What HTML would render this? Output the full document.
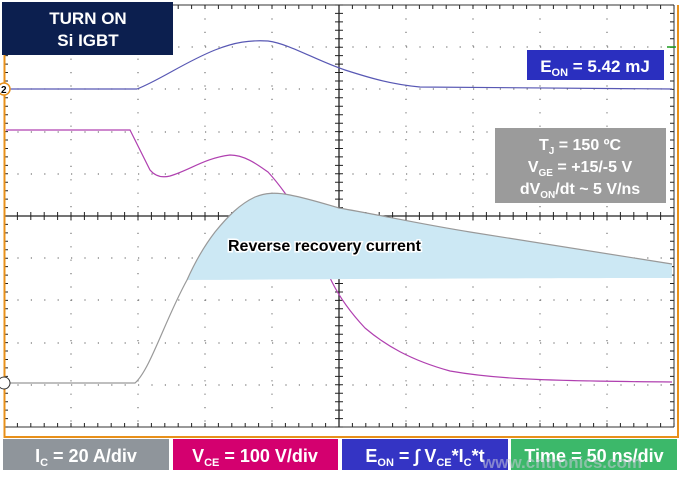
<!DOCTYPE html>
<html><head><meta charset="utf-8"><style>
html,body{margin:0;padding:0;background:#fff;width:680px;height:477px;overflow:hidden}
svg{display:block}
text{font-family:"Liberation Sans",Arial,sans-serif;font-weight:bold}
</style></head><body>
<svg width="680" height="477" viewBox="0 0 680 477" xmlns="http://www.w3.org/2000/svg">
<rect width="680" height="477" fill="#fff"/>
<g stroke="#777" stroke-width="1.2" stroke-dasharray="1.2 12.2" fill="none">
<path d="M71 5V427M138 5V427M205 5V427M272 5V427M406 5V427M473 5V427M540 5V427M607 5V427"/>
<path d="M4 47H674M4 89H674M4 132H674M4 174H674M4 258H674M4 300H674M4 343H674M4 385H674"/>
</g>
<g stroke="#222" stroke-width="1.3">
<path d="M4 216H674M339 5V427"/>
<path d="M4 5H674M4 427H674M674 5V427" stroke="#333" stroke-width="1"/>
</g>
<g stroke="#222" stroke-width="1">
<path id="hticks" d=""/>
</g>
<!-- purple behind fill -->
<path d="M6 130 L130 130 L150 170 C155 176 162 178 170 176 C190 170 205 158 230 155 C245 155 258 165 268 172 C280 185 290 200 300 215 L332 282 C340 298 350 312 365 328 C385 345 410 360 450 371 C490 378 530 381 672 382" fill="none" stroke="#b040b0" stroke-width="1.2"/>
<path d="M187 280 C195 262 205 245 215 232 C228 216 240 204 255 197 C265 193 275 192 290 195 C310 199 325 204 339 208 C380 215 420 224 470 232 C540 243 610 254 672 264 L672 278 C560 278 350 279 187 280 Z" fill="#cce8f4"/>
<path d="M6 89 L137 89 C160 80 185 62 215 50 C235 42 250 40 268 41 C290 44 315 60 345 70 C370 78 390 84 420 87 L672 89" fill="none" stroke="#5858b4" stroke-width="1.2"/>
<path d="M6 383 L135 383 C150 370 165 320 187 280 C195 262 205 245 215 232 C228 216 240 204 255 197 C265 193 275 192 290 195 C310 199 325 204 339 208 C380 215 420 224 470 232 C540 243 610 254 672 264" fill="none" stroke="#999" stroke-width="1.2"/>
<path d="M4.5 55V437H678V5" fill="none" stroke="#e8901a" stroke-width="2"/>
<circle cx="4" cy="89" r="6" fill="#fff" stroke="#e8901a" stroke-width="1.5"/>
<text x="1" y="93" font-size="10" fill="#000">2</text>
<circle cx="4" cy="383" r="6" fill="#fff" stroke="#333" stroke-width="1"/>
<path d="M667 47H676" stroke="#1a9a1a" stroke-width="1.5"/>
<rect x="2" y="2" width="171" height="53" fill="#0c1f4f"/>
<text x="88" y="24" font-size="17" fill="#fff" text-anchor="middle">TURN ON</text>
<text x="88" y="46" font-size="17" fill="#fff" text-anchor="middle">Si IGBT</text>
<rect x="527" y="50" width="137" height="30" fill="#2a2fbf"/>
<text x="595" y="72" font-size="17" fill="#fff" text-anchor="middle">E<tspan font-size="11" dy="4">ON</tspan><tspan dy="-4"> = 5.42 mJ</tspan></text>
<rect x="495" y="128" width="171" height="75" fill="#9b9b9b"/>
<text x="580" y="150" font-size="16" fill="#fff" text-anchor="middle">T<tspan font-size="10" dy="4">J</tspan><tspan dy="-4"> = 150 ºC</tspan></text>
<text x="580" y="172" font-size="16" fill="#fff" text-anchor="middle">V<tspan font-size="10" dy="4">GE</tspan><tspan dy="-4"> = +15/-5 V</tspan></text>
<text x="580" y="194" font-size="16" fill="#fff" text-anchor="middle">dV<tspan font-size="10" dy="4">ON</tspan><tspan dy="-4">/dt ~ 5 V/ns</tspan></text>
<text x="228" y="251" font-size="16" fill="#000" stroke="#fff" stroke-width="3" paint-order="stroke">Reverse recovery current</text>
<rect x="3" y="439" width="166" height="31" fill="#8f959b"/>
<rect x="173" y="439" width="165" height="31" fill="#d4006f"/>
<rect x="342" y="439" width="166" height="31" fill="#3434c4"/>
<rect x="511" y="439" width="166" height="31" fill="#3cb86a"/>
<text x="86" y="462" font-size="18" fill="#fff" text-anchor="middle">I<tspan font-size="11" dy="4">C</tspan><tspan dy="-4"> = 20 A/div</tspan></text>
<text x="255" y="462" font-size="18" fill="#fff" text-anchor="middle">V<tspan font-size="11" dy="4">CE</tspan><tspan dy="-4"> = 100 V/div</tspan></text>
<text x="425" y="462" font-size="18" fill="#fff" text-anchor="middle">E<tspan font-size="11" dy="4">ON</tspan><tspan dy="-4"> = ∫ V</tspan><tspan font-size="11" dy="4">CE</tspan><tspan dy="-4">*I</tspan><tspan font-size="11" dy="4">C</tspan><tspan dy="-4">*t</tspan></text>
<text x="594" y="462" font-size="18" fill="#fff" text-anchor="middle">Time = 50 ns/div</text>
<text x="562" y="468" font-size="17" fill="#c8c8d8" fill-opacity="0.55" font-weight="normal" text-anchor="middle">www.cntronics.com</text>
</svg>
<script>
var d="";
for(var x=4;x<=674;x+=13.4){d+="M"+x.toFixed(1)+" 212V220M"+x.toFixed(1)+" 5V9M"+x.toFixed(1)+" 423V427";}
for(var y=5;y<=427;y+=8.44){d+="M335 "+y.toFixed(1)+"H343M4 "+y.toFixed(1)+"H8M670 "+y.toFixed(1)+"H674";}
document.getElementById("hticks").setAttribute("d",d);
</script>
</body></html>
